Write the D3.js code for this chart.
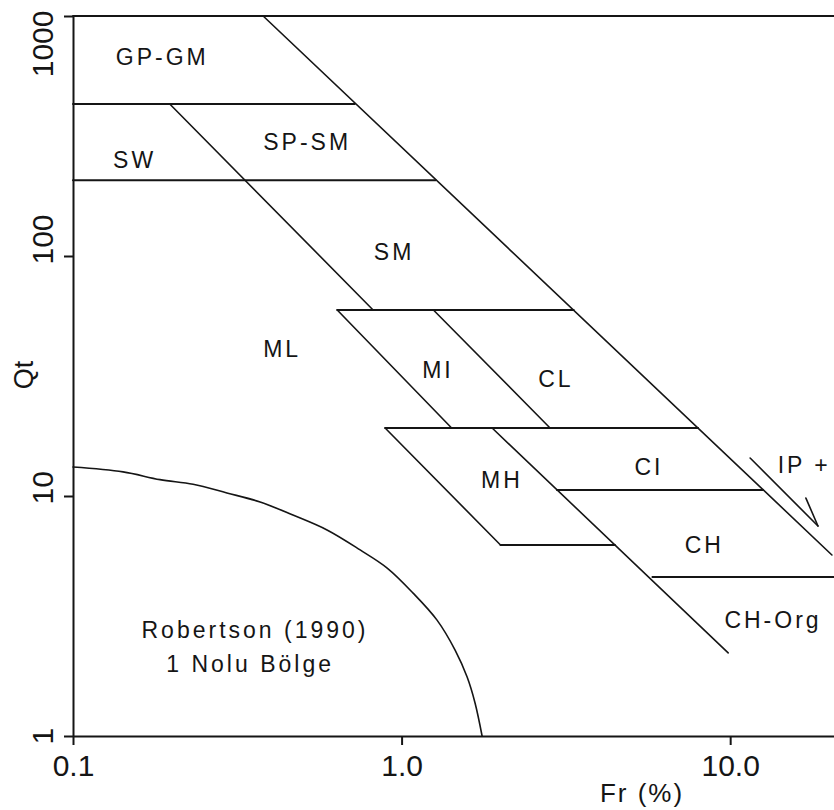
<!DOCTYPE html>
<html>
<head>
<meta charset="utf-8">
<script src="https://cdn.jsdelivr.net/npm/d3@7"></script>
<style>
  html, body { margin: 0; padding: 0; background: #fff; }
  svg { display: block; }
  text { font-family: "Liberation Sans", Arial, sans-serif; fill: #151515; }
</style>
</head>
<body>
<div id="chart"></div>
<script>
// Fr (%) ve Qt eksen sınırları
const frDomain = [0.1, 20.7];
const qtDomain = [1, 1000];
const frTicks = [0.1, 1, 10];
const qtTicks = [1, 10, 100, 1000];

// Yatay sınır çizgileri: [Fr başlangıç, Fr bitiş, Qt]
const horizontalLines = [
  [0.1, 20.7, 1000],
  [0.1, 0.72, 430],
  [0.1, 1.27, 207],
  [0.637, 3.34, 59.6],
  [0.891, 7.99, 19.2],
  [2.97, 12.6, 10.6],
  [2.0, 4.46, 6.25],
  [5.8, 20.7, 4.6]
];

// Eğik sınır çizgileri: [[Fr, Qt], [Fr, Qt]]
const slopedLines = [
  [[0.379, 1000], [20.4, 5.68]],
  [[0.197, 430], [0.819, 59.6]],
  [[0.637, 59.6], [1.42, 19.2]],
  [[1.25, 59.6], [2.83, 19.2]],
  [[0.891, 19.2], [2.0, 6.25]],
  [[1.886, 19.2], [9.86, 2.22]]
];

// Robertson (1990) 1 nolu bölge eğrisi
const zoneCurve = [
  [0.1, 13.2], [0.142, 12.6], [0.184, 11.7], [0.232, 11.2], [0.294, 10.3],
  [0.371, 9.44], [0.467, 8.33], [0.593, 7.22], [0.748, 5.96], [0.904, 5.01],
  [1.084, 3.94], [1.282, 3.04], [1.455, 2.28], [1.583, 1.76], [1.674, 1.37],
  [1.758, 1.0]
];

// IP+ oku
const arrowLine = [[11.5, 14.4], [18.5, 7.5]];
const arrowBarb = [[17.0, 9.8], [18.5, 7.5]];

// Bölge etiketleri: [metin, Fr, Qt]
const zoneLabels = [
  ["GP-GM", 0.187, 625],
  ["SW", 0.154, 233],
  ["SP-SM", 0.516, 277],
  ["SM", 0.949, 96.2],
  ["ML", 0.433, 37.9],
  ["MI", 1.29, 31.0],
  ["CL", 2.95, 28.5],
  ["MH", 2.02, 10.8],
  ["CI", 5.66, 12.2],
  ["IP +", 16.8, 12.5],
  ["CH", 8.34, 5.79],
  ["CH-Org", 13.5, 2.82],
  ["Robertson (1990)", 0.358, 2.56],
  ["1 Nolu Bölge", 0.346, 1.85]
];

const width = 834, height = 810;
const margin = { left: 73, right: 0, top: 16, bottom: 74 };

const x = d3.scaleLog().domain(frDomain).range([margin.left, width - margin.right]);
const y = d3.scaleLog().domain(qtDomain).range([height - margin.bottom, margin.top]);

const svg = d3.select("#chart").append("svg")
  .attr("width", width)
  .attr("height", height);

const ink = "#151515";

// Eksenler
const xAxis = svg.append("g")
  .attr("transform", `translate(0,${y(1)})`)
  .call(d3.axisBottom(x).tickValues(frTicks).tickSize(9).tickSizeOuter(0)
    .tickFormat(d => d === 0.1 ? "0.1" : d.toFixed(1)));
xAxis.selectAll("text")
  .attr("y", 40)
  .attr("dy", null)
  .style("font-size", "30px");

const yAxis = svg.append("g")
  .attr("transform", `translate(${x(0.1)},0)`)
  .call(d3.axisLeft(y).tickValues(qtTicks).tickSize(9).tickSizeOuter(0)
    .tickFormat(d3.format("d")));
yAxis.selectAll("text")
  .attr("text-anchor", "start")
  .attr("dy", null)
  .style("font-size", "30px")
  .each(function (d) {
    const len = this.getComputedTextLength();
    let start = y(d) + 8;
    if (start - len < 10) start = 10 + len; // üst etiketi sığdır
    d3.select(this)
      .attr("x", -(start - y(d)))
      .attr("y", -20)
      .attr("transform", "rotate(-90)");
  });

[xAxis, yAxis].forEach(g => {
  g.select(".domain").attr("stroke", ink).attr("stroke-width", 2);
  g.selectAll(".tick line").attr("stroke", ink).attr("stroke-width", 2);
  g.selectAll("text").attr("fill", ink).style("font-family", "'Liberation Sans', Arial, sans-serif");
});

// Eksen başlıkları
svg.append("text")
  .attr("transform", `translate(33,375) rotate(-90)`)
  .attr("text-anchor", "middle")
  .style("font-size", "27px")
  .text("Qt");

svg.append("text")
  .attr("x", 642)
  .attr("y", 802)
  .attr("text-anchor", "middle")
  .style("font-size", "26px")
  .style("letter-spacing", "2px")
  .text("Fr (%)");

const line = d3.line().x(d => x(d[0])).y(d => y(d[1]));

const plot = svg.append("g")
  .attr("fill", "none")
  .attr("stroke", ink)
  .attr("stroke-linecap", "round");

plot.selectAll("path.h")
  .data(horizontalLines)
  .join("path")
  .attr("class", "h")
  .attr("stroke-width", 2)
  .attr("d", d => line([[d[0], d[2]], [d[1], d[2]]]));

plot.selectAll("path.s")
  .data(slopedLines)
  .join("path")
  .attr("class", "s")
  .attr("stroke-width", 1.6)
  .attr("d", line);

plot.append("path")
  .attr("stroke-width", 1.6)
  .attr("d", line.curve(d3.curveCatmullRom)(zoneCurve));
line.curve(d3.curveLinear);

plot.append("path")
  .attr("stroke-width", 1.6)
  .attr("d", line(arrowLine));
plot.append("path")
  .attr("stroke-width", 1.6)
  .attr("d", line(arrowBarb));

// Etiketler
svg.append("g")
  .selectAll("text")
  .data(zoneLabels)
  .join("text")
  .attr("x", d => x(d[1]))
  .attr("y", d => y(d[2]))
  .attr("text-anchor", "middle")
  .style("font-size", "23px")
  .style("letter-spacing", "3px")
  .text(d => d[0]);
</script>
</body>
</html>
